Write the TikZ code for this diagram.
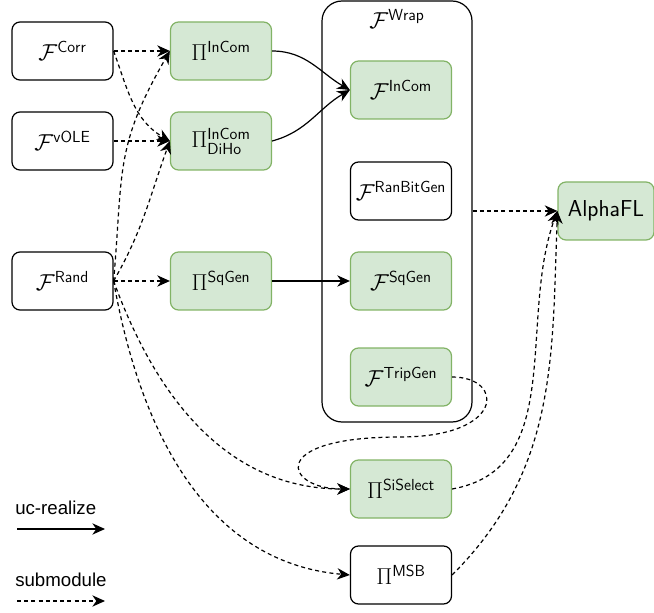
\documentclass[tikz,border=0pt]{standalone}
\usepackage{amsmath}
\usepackage{amssymb}
\usepackage{fontspec}
\newfontfamily\legendfont{Liberation Sans}
\usetikzlibrary{arrows.meta,positioning}

\definecolor{boxgreen}{HTML}{D5E8D4}
\definecolor{edgegreen}{HTML}{82B366}

\tikzset{
  box/.style={draw, line width=0.9pt, rounded corners=6pt, minimum width=75.75pt, minimum height=43.5pt, inner sep=1pt, font=\LARGE},
  gbox/.style={box, draw=edgegreen, fill=boxgreen},
  ucr/.style={line width=0.9pt, -{Stealth[length=9.5pt,width=8.5pt,inset=3pt]}},
  sub/.style={ucr, dash pattern=on 3pt off 2.4pt}
}

\begin{document}
\begin{tikzpicture}[x=0.75pt, y=-0.75pt]
\useasboundingbox (0,0) rectangle (654,613);

% ideal functionalities on the left
\node[box] (fcorr) at (62.5,51) {$\mathcal{F}^{\mathsf{Corr}}$};
\node[box] (fvole) at (62.5,141) {$\mathcal{F}^{\mathsf{vOLE}}$};
\node[box] (frand) at (62.5,281) {$\mathcal{F}^{\mathsf{Rand}}$};

% protocols
\node[gbox] (piincom) at (221,51) {$\Pi^{\mathsf{InCom}}$};
\node[gbox] (pidiho) at (221,141) {$\Pi^{\mathsf{InCom}}_{\mathsf{DiHo}}$};
\node[gbox] (pisqgen) at (221,281) {$\Pi^{\mathsf{SqGen}}$};

% wrapper
\node[draw, line width=0.9pt, rounded corners=15pt, minimum width=112.5pt, minimum height=315.75pt] (wrap) at (397,211.5) {};
\node[font=\LARGE] (wraplabel) at (397,19) {$\mathcal{F}^{\mathsf{Wrap}}$};
\node[gbox] (fincom) at (401,90) {$\mathcal{F}^{\mathsf{InCom}}$};
\node[box] (franbit) at (401,191) {$\mathcal{F}^{\mathsf{RanBitGen}}$};
\node[gbox] (fsqgen) at (401,281) {$\mathcal{F}^{\mathsf{SqGen}}$};
\node[gbox] (ftripgen) at (401,377) {$\mathcal{F}^{\mathsf{TripGen}}$};

\node[gbox] (pisisel) at (401,489) {$\Pi^{\mathsf{SiSelect}}$};
\node[box] (pimsb) at (401,575) {$\Pi^{\mathsf{MSB}}$};
\node[gbox, minimum width=72pt, font=\LARGE\sffamily] (alphafl) at (606,211) {AlphaFL};

% uc-realize
\draw[ucr] (piincom.east) to[out=0, in=150] (fincom.west);
\draw[ucr] (pidiho.east) to[out=15, in=210] (fincom.west);
\draw[ucr] (pisqgen) -- (fsqgen);

% submodules
\draw[sub] (fcorr.east) -- (piincom.west);
\draw[sub] (fcorr.east) to[out=-70, in=150] (pidiho.west);
\draw[sub] (fvole) -- (pidiho);
\draw[sub] (frand.east) to[out=85, in=240, looseness=1.2] (piincom.west);
\draw[sub] (frand.east) to[out=60, in=250] (pidiho.west);
\draw[sub] (frand) -- (pisqgen);
\draw[sub] (frand.east) to[out=-70, in=180] (pisisel.west);
\draw[sub] (frand.east) to[out=-80, in=175] (pimsb.west);
\coordinate (loopbend) at (400,437);
\draw[sub] (ftripgen.east) .. controls (505,377) and (505,437) .. (loopbend)
  .. controls (265,437) and (285,489) .. (pisisel.west);
\draw[sub] (wrap.east |- alphafl) -- (alphafl.west);
\draw[sub] (pisisel.east) to[out=10, in=250] (alphafl.west);
\draw[sub] (pimsb.east) to[out=45, in=268] (alphafl.west);

% legend
\node[anchor=west, font=\legendfont\fontsize{14}{16}\selectfont, inner sep=0pt] (legucr) at (15,508) {uc-realize};
\coordinate (ucrfrom) at (17,529);
\coordinate (ucrto) at (105,529);
\draw[ucr] (ucrfrom) -- (ucrto);
\node[anchor=west, font=\legendfont\fontsize{14}{16}\selectfont, inner sep=0pt] (legsub) at (15,580) {submodule};
\coordinate (subfrom) at (17,601);
\coordinate (subto) at (105,601);
\draw[sub] (subfrom) -- (subto);
\end{tikzpicture}
\end{document}
